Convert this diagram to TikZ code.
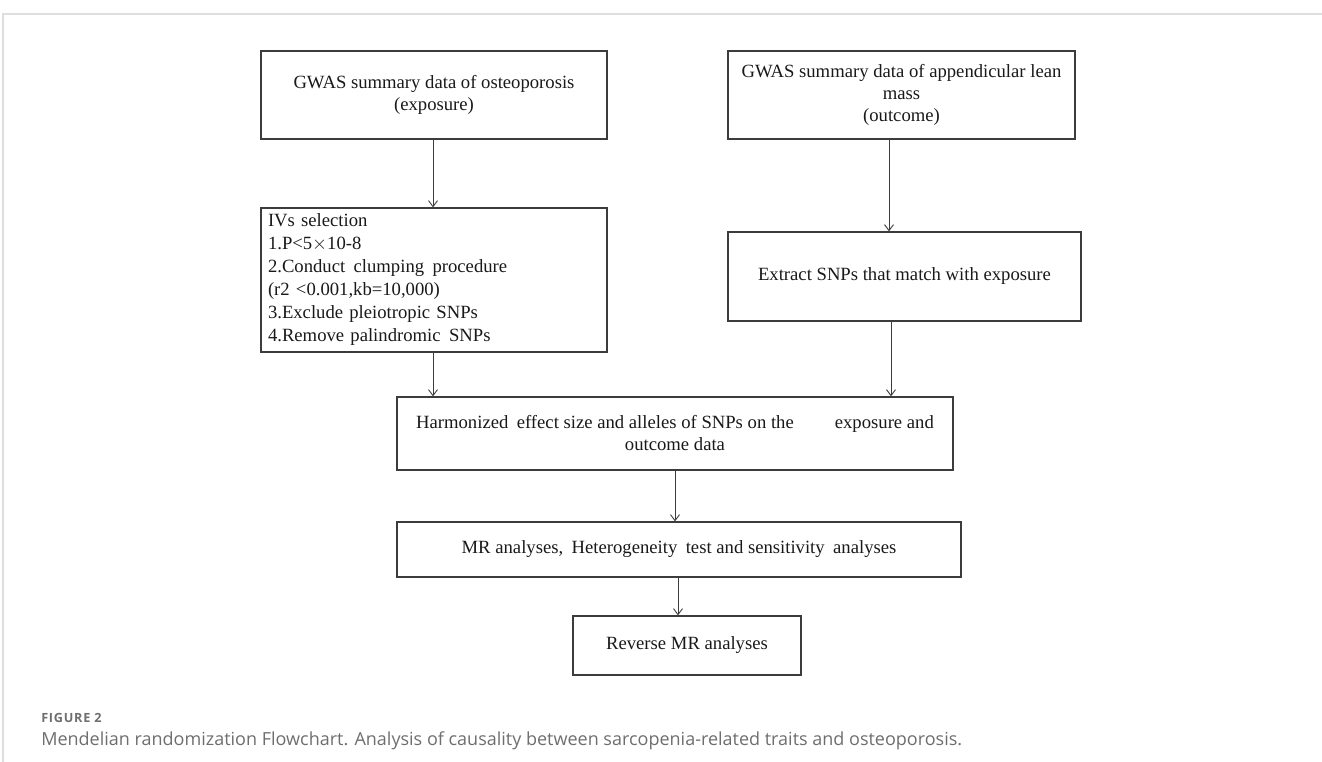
\documentclass[tikz,border=0pt]{standalone}
\usepackage{fontspec}
\setmainfont{Liberation Serif}
\newfontfamily\capfont{Open Sans}
\newfontfamily\figfont[LetterSpace=6]{Open Sans}
\usetikzlibrary{arrows.meta,calc}
\definecolor{boxgray}{HTML}{3C3C3C}
\definecolor{framegray}{HTML}{DEDEDE}
\definecolor{capgray}{HTML}{6E6E6E}
\newcommand\ws{\hspace{0.45em}}
\begin{document}
\begin{tikzpicture}[x=0.75pt,y=-0.75pt,
  box/.style={draw=boxgray, line width=0.9pt, align=center, inner sep=0pt,
    font=\fontsize{14}{16.5}\selectfont, text=black!90},
  arr/.style={draw=boxgray, line width=0.7pt, -{Straight Barb[length=4.5pt,width=6.75pt,line width=0.7pt]}}]
\useasboundingbox (0,0) rectangle (1322,762);
\draw[framegray, line width=1.5pt] (3,762) -- (3,14) -- (1322,14);

\node[box, minimum width=259.5pt, minimum height=66pt] (b1) at (434,95)
  {GWAS summary data of osteoporosis\\(exposure)};
\node[box, minimum width=259.5pt, minimum height=108pt, text width=249pt, align=left,
  font=\fontsize{14}{17.25}\selectfont] (b2) at (434,280)
  {IVs selection\\
   1.P<5$\times$10-8\\
   2.Conduct\ws clumping\ws procedure\\
   (r2 <0.001,kb=10,000)\\
   3.Exclude pleiotropic SNPs\\
   4.Remove palindromic\ws SNPs};
\node[box, minimum width=260.25pt, minimum height=66pt] (b3) at (901.5,95)
  {GWAS summary data of appendicular lean\\mass\\(outcome)};
\node[box, minimum width=264.75pt, minimum height=66.75pt] (b4) at (904.5,276.5)
  {Extract SNPs that match with exposure};
\node[box, minimum width=417pt, minimum height=54.75pt] (b5) at (675,433.5)
  {Harmonized\ws effect size and alleles of SNPs on the\hspace{2.2em}exposure and\\outcome data};
\node[box, minimum width=423pt, minimum height=41.25pt] (b6) at (679,549.5)
  {MR analyses,\ws Heterogeneity\ws test and sensitivity\ws analyses};
\node[box, minimum width=171pt, minimum height=44.25pt] (b7) at (687,645.5)
  {Reverse MR analyses};

\coordinate (a1) at ($(b1.south)+(-1,0)$);
\coordinate (a2) at ($(b2.south)+(-1,0)$);
\coordinate (a3) at ($(b3.south)+(-12.5,0)$);
\coordinate (a4) at ($(b4.south)+(-13.5,0)$);
\coordinate (a6) at ($(b6.south)+(-1,0)$);
\draw[arr] (a1) -- (a1 |- b2.north);
\draw[arr] (a3) -- (a3 |- b4.north);
\draw[arr] (a2) -- (a2 |- b5.north);
\draw[arr] (a4) -- (a4 |- b5.north);
\draw[arr] (b5.south) -- (b5.south |- b6.north);
\draw[arr] (a6) -- (a6 |- b7.north);

\node[anchor=base west, inner sep=0pt, text=capgray,
  font=\figfont\bfseries\fontsize{9.5}{11}\selectfont] (fig) at (41,723) {FIGURE 2};
\node[anchor=base west, inner sep=0pt, text=capgray,
  font=\capfont\fontsize{13.5}{16}\selectfont] (cap) at (41,745)
  {Mendelian randomization Flowchart. Analysis of causality between sarcopenia-related traits and osteoporosis.};
\end{tikzpicture}
\end{document}
